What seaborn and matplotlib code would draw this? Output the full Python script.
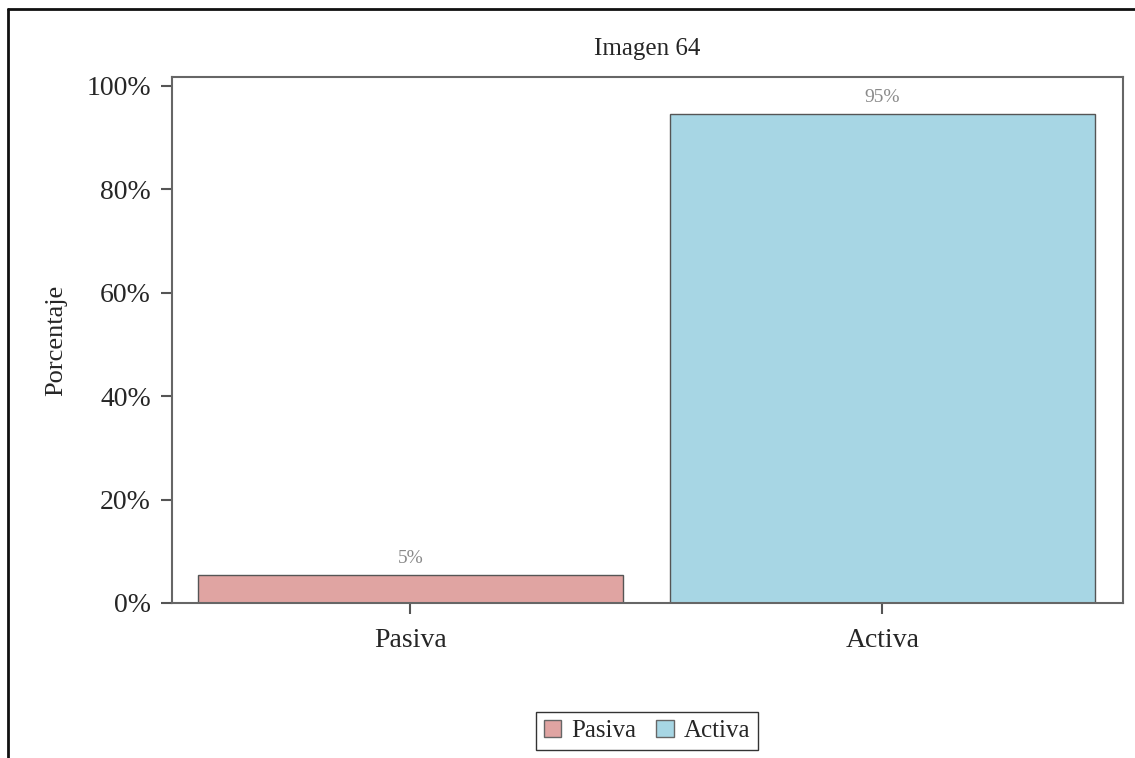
import matplotlib.pyplot as plt
import matplotlib.lines as mlines
import seaborn as sns
import pandas as pd
from matplotlib.ticker import PercentFormatter

# data
categorias = ["Pasiva", "Activa"]
porcentajes = [0.054, 0.946]
etiquetas = ["5%", "95%"]
colores = ["#E0A4A2", "#A7D6E4"]

df = pd.DataFrame({"Tipo": categorias, "Porcentaje": porcentajes})

sns.set_style("white")
plt.rcParams["font.family"] = ["Liberation Serif", "DejaVu Serif"]

fig = plt.figure(figsize=(11.35, 7.58), dpi=100)
ax = fig.add_axes([0.1515, 0.2045, 0.838, 0.694])

sns.barplot(data=df, x="Tipo", y="Porcentaje", hue="Tipo", palette=colores,
            width=0.9, edgecolor="#555555", linewidth=1.0, saturation=1,
            legend=True, ax=ax)

for cont, lab in zip(ax.containers, etiquetas):
    ax.bar_label(cont, labels=[lab], padding=6, fontsize=14, color="#8a8a8a")

ax.set_xlim(-0.505, 1.51)
ax.set_ylim(0, 1.0175)
ax.set_yticks([0, 0.2, 0.4, 0.6, 0.8, 1.0])
ax.yaxis.set_major_formatter(PercentFormatter(1.0, decimals=0))
ax.set_title("Imagen 64", fontsize=18, pad=16)
ax.set_xlabel("")
ax.set_ylabel("Porcentaje", fontsize=19, labelpad=14)
ax.tick_params(axis="both", labelsize=20, length=8, width=1.5, color="#555555",
               direction="out", bottom=True, left=True)
ax.tick_params(axis="y", pad=7)
ax.tick_params(axis="x", pad=10)
for s in ax.spines.values():
    s.set_color("#666666")
    s.set_linewidth(1.5)

leg = ax.get_legend()
if leg is not None:
    leg.remove()
handles = [plt.Rectangle((0, 0), 1, 1, facecolor=c, edgecolor="#666666") for c in colores]
fig.legend(handles, categorias, loc="center", bbox_to_anchor=(647 / 1135, 1 - 731 / 758),
           ncol=2, frameon=True, fontsize=18, handlelength=0.7, handleheight=0.7,
           handletextpad=0.4, columnspacing=0.8, borderpad=0.3, fancybox=False,
           edgecolor="#333333", framealpha=1)

# outer frame (top and left edges)
fig.add_artist(mlines.Line2D([8 / 1135, 1], [1 - 9 / 758, 1 - 9 / 758], color="#111111", lw=2,
                             transform=fig.transFigure))
fig.add_artist(mlines.Line2D([8 / 1135, 8 / 1135], [0, 1 - 9 / 758], color="#111111", lw=2,
                             transform=fig.transFigure))

fig.savefig("out.png", dpi=100)
